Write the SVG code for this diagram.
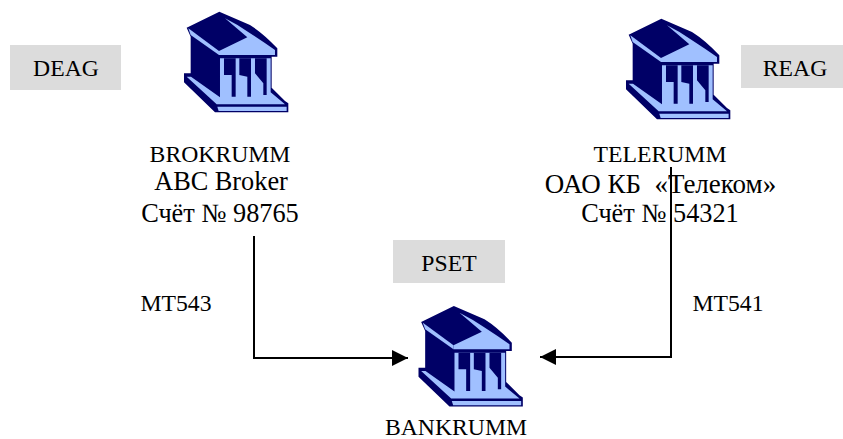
<svg xmlns="http://www.w3.org/2000/svg" width="843" height="439" viewBox="0 0 843 439">
<style>
text{font-family:"Liberation Serif","Noto Sans CJK SC",serif;font-size:23.7px;fill:#000;text-anchor:middle}
.big{font-size:26.3px}
.lab{fill:#dcdcdc}
.d{fill:#000066}
.l{fill:#a0c0ff}
.c{fill:none;stroke:#000;stroke-width:2}
</style>
<defs>
<marker id="arrow" markerUnits="userSpaceOnUse" markerWidth="17" markerHeight="17" refX="16" refY="8" orient="auto"><path d="M0 0L16 8L0 16Z" fill="#000"/></marker>
<g id="bank" transform="scale(.3333)">
<path class="d" d="M148 20L50 68L62 95V205H42V232L135 322H355V295L345 288L305 248V155H322V130Q280 85 240 60Z"/>
<path class="l" d="M165 40Q205 60 238 83Q280 110 315 135V150H147V138L232 97Z"/>
<path class="l" d="M55 70L147 138V150L62 90Z"/>
<path class="l" d="M150 160H302V262L345 298H140L50 215H63L150 277Z"/>
<path class="d" d="M162 160H197V275H185V210H162ZM208 160H243V275H232V215L208 210ZM255 160H290V270H280V235L255 205Z"/>
<path class="l" d="M142 305H350V318H146Z"/>
</g>
</defs>
<g id="connectors">
<path class="c" d="M254 236V358H408" marker-end="url(#arrow)"/>
<path class="c" d="M671 167V357H540" marker-end="url(#arrow)"/>
</g>
<g id="deag"><rect class="lab" x="10" y="45" width="111" height="45"/><text x="66" y="76">DEAG</text></g>
<g id="reag"><rect class="lab" x="741" y="45" width="102" height="43"/><text x="795" y="76">REAG</text></g>
<g id="pset"><rect class="lab" x="393" y="240" width="112" height="43"/><text x="449" y="271">PSET</text></g>
<g id="brokrumm"><use href="#bank" transform="translate(170 5)"/><text x="220" y="162">BROKRUMM</text><text class="big" x="221" y="190">ABC Broker</text><text class="big" x="220" y="222">Счёт № 98765</text></g>
<g id="telerumm"><use href="#bank" transform="translate(612 12)"/><text x="660" y="162">TELERUMM</text><text class="big" x="660.5" y="193" style="font-size:27px" xml:space="preserve">ОАО КБ  «Телеком»</text><text class="big" x="660" y="222">Счёт № 54321</text></g>
<g id="bankrumm"><use href="#bank" transform="translate(404.5 299.3)"/><text x="456" y="435">BANKRUMM</text></g>
<text x="176" y="311">MT543</text>
<text x="728" y="311">MT541</text>
</svg>
